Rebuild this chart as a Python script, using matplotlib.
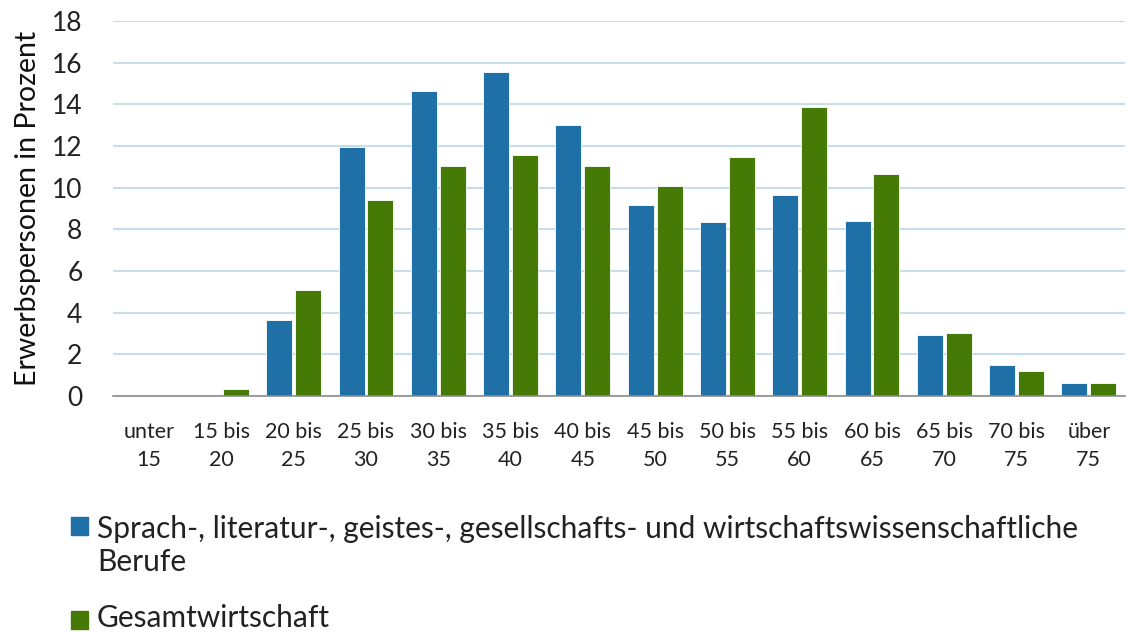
import matplotlib
matplotlib.use("Agg")
import matplotlib.pyplot as plt
from matplotlib.patches import Rectangle
import numpy as np

plt.rcParams['font.family'] = ['Lato', 'DejaVu Sans']

# age groups and shares (percent)
categories = ["unter\n15", "15 bis\n20", "20 bis\n25", "25 bis\n30", "30 bis\n35",
              "35 bis\n40", "40 bis\n45", "45 bis\n50", "50 bis\n55", "55 bis\n60",
              "60 bis\n65", "65 bis\n70", "70 bis\n75", "über\n75"]
berufe = [0.0, 0.0, 3.63, 11.95, 14.64, 15.57, 13.03, 9.17, 8.34, 9.63, 8.4, 2.94, 1.47, 0.64]
gesamt = [0.0, 0.34, 5.09, 9.39, 11.03, 11.55, 11.03, 10.1, 11.49, 13.86, 10.64, 3.02, 1.18, 0.64]
series_names = ["Sprach-, literatur-, geistes-, gesellschafts- und wirtschaftswissenschaftliche\nBerufe",
                "Gesamtwirtschaft"]
yticks = [0, 2, 4, 6, 8, 10, 12, 14, 16, 18]

blue = "#1F70A6"
green = "#467A07"

fig = plt.figure(figsize=(11.32, 6.32), dpi=100)
ax = fig.add_axes([0.0998, 0.3734, 0.894, 0.5934])

x = np.arange(len(categories))
w = 0.36
ax.bar(x - 0.2, berufe, w, color=blue, edgecolor="white", linewidth=0.6, zorder=3)
ax.bar(x + 0.2, gesamt, w, color=green, edgecolor="white", linewidth=0.6, zorder=3)

ax.set_xlim(-0.5, len(categories) - 0.5)
ax.set_ylim(0, 18)
ax.set_yticks(yticks)
ax.set_yticklabels([str(t) for t in yticks], fontsize=19, color="#222222")
ax.set_xticks(x)
ax.set_xticklabels(categories, fontsize=15.5, color="#222222", linespacing=1.5)
ax.tick_params(axis="y", length=0, pad=22)
ax.tick_params(axis="x", length=0, pad=19)
ax.yaxis.grid(True, color="#C8DCEA", linewidth=1.5, zorder=0)
for s in ["top", "right", "left"]:
    ax.spines[s].set_visible(False)
ax.spines["bottom"].set_color("#8C8C8C")
ax.spines["bottom"].set_linewidth(1.2)
ax.spines["bottom"].set_zorder(4)

ax.set_ylabel("Erwerbspersonen in Prozent", fontsize=20.5, color="#111111", labelpad=8)

# legend drawn by hand so the marker sits next to the first line
# (base = baseline of the last text line, in pixels from the top)
W, H = 1132, 632
for (name, col, ytop, base) in [(series_names[0], blue, 517, 571), (series_names[1], green, 611, 627)]:
    fig.patches.append(Rectangle((71 / W, 1 - (ytop + 18) / H), 17 / W, 18 / H,
                                 transform=fig.transFigure, color=col))
    fig.text(97 / W, 1 - base / H, name, fontsize=21.5, color="#222222",
             va="baseline", ha="left", linespacing=1.2)

fig.savefig("out.png", dpi=100)
